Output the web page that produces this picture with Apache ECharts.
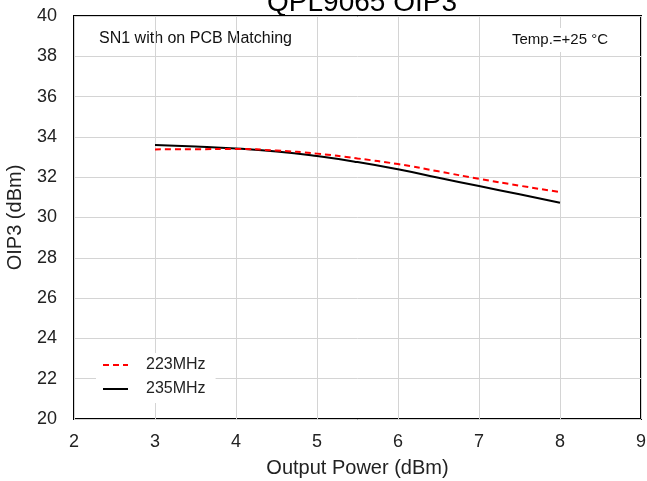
<!DOCTYPE html>
<html><head><meta charset="utf-8">
<script src="https://cdn.jsdelivr.net/npm/echarts@6/dist/echarts.min.js"></script>
<style>html,body{margin:0;padding:0;background:#fff}#c{width:647px;height:481px}</style>
</head><body><div id="c"></div>
<script>
const xValues = [3, 3.5, 4, 4.5, 5, 5.5, 6, 6.5, 7, 7.5, 8];
const s223 = [33.38, 33.39, 33.40, 33.32, 33.17, 32.93, 32.65, 32.29, 31.92, 31.58, 31.26];
const s235 = [33.60, 33.52, 33.42, 33.28, 33.05, 32.75, 32.39, 31.97, 31.56, 31.15, 30.73];
const seriesNames = ['223MHz', '235MHz'];
const titleText = 'QPL9065 OIP3';
const noteLeft = 'SN1 with on PCB Matching';
const noteRight = 'Temp.=+25 °C';

const chart = echarts.init(document.getElementById('c'), null, {renderer: 'canvas'});
const font = 'Arial, "Liberation Sans", sans-serif';
chart.setOption({
  animation: false,
  backgroundColor: '#fff',
  title: {text: titleText, left: 357, textAlign: 'center', top: -16,
    textStyle: {fontFamily: font, fontSize: 28, fontWeight: 'normal', color: '#000'}},
  grid: {left: 74, right: 6, top: 16, bottom: 62, show: true, borderColor: '#000', borderWidth: 2,
    backgroundColor: 'transparent', containLabel: false, outerBoundsMode: 'none'},
  xAxis: {type: 'value', min: 2, max: 9, interval: 1,
    name: 'Output Power (dBm)', nameLocation: 'middle', nameGap: 39,
    nameTextStyle: {fontFamily: font, fontSize: 20, color: '#222'},
    axisLine: {show: false}, axisTick: {show: false},
    axisLabel: {fontFamily: font, fontSize: 18, color: '#222', margin: 14},
    splitLine: {show: true, lineStyle: {color: '#d4d4d4', width: 1}}},
  yAxis: {type: 'value', min: 20, max: 40, interval: 2,
    name: 'OIP3 (dBm)', nameLocation: 'middle', nameGap: 49, nameRotate: 90,
    nameTextStyle: {fontFamily: font, fontSize: 20, color: '#222'},
    axisLine: {show: false}, axisTick: {show: false},
    axisLabel: {fontFamily: font, fontSize: 18, color: '#222', margin: 17},
    splitLine: {show: true, lineStyle: {color: '#d4d4d4', width: 1}}},
  legend: {orient: 'vertical', left: 96, top: 353, itemWidth: 25, itemHeight: 10, itemGap: 8,
    backgroundColor: '#fff', padding: [4, 10, 6, 6],
    itemStyle: {color: 'rgba(0,0,0,0)', borderColor: 'rgba(0,0,0,0)', borderWidth: 0},
    textStyle: {fontFamily: font, fontSize: 16, color: '#222', padding: [0, 0, 0, 13]},
    data: seriesNames},
  graphic: [
    {type: 'text', left: 99, top: 31, style: {text: noteLeft, font: '16px ' + font, fill: '#111'}},
    {type: 'rect', left: 505, top: 28, shape: {width: 112, height: 24}, style: {fill: '#fff'}, z: 1},
    {type: 'text', left: 512, top: 32, z: 2, style: {text: noteRight, font: '15px ' + font, fill: '#111'}}
  ],
  series: [
    {name: seriesNames[0], type: 'line', smooth: true, symbol: 'none', z: 3,
     lineStyle: {color: '#ff0000', width: 2, type: [6, 4]}, itemStyle: {color: '#ff0000'},
     data: xValues.map((x, i) => [x, s223[i]])},
    {name: seriesNames[1], type: 'line', smooth: true, symbol: 'none', z: 2,
     lineStyle: {color: '#000', width: 2}, itemStyle: {color: '#000'},
     data: xValues.map((x, i) => [x, s235[i]])}
  ]
});
</script></body></html>
